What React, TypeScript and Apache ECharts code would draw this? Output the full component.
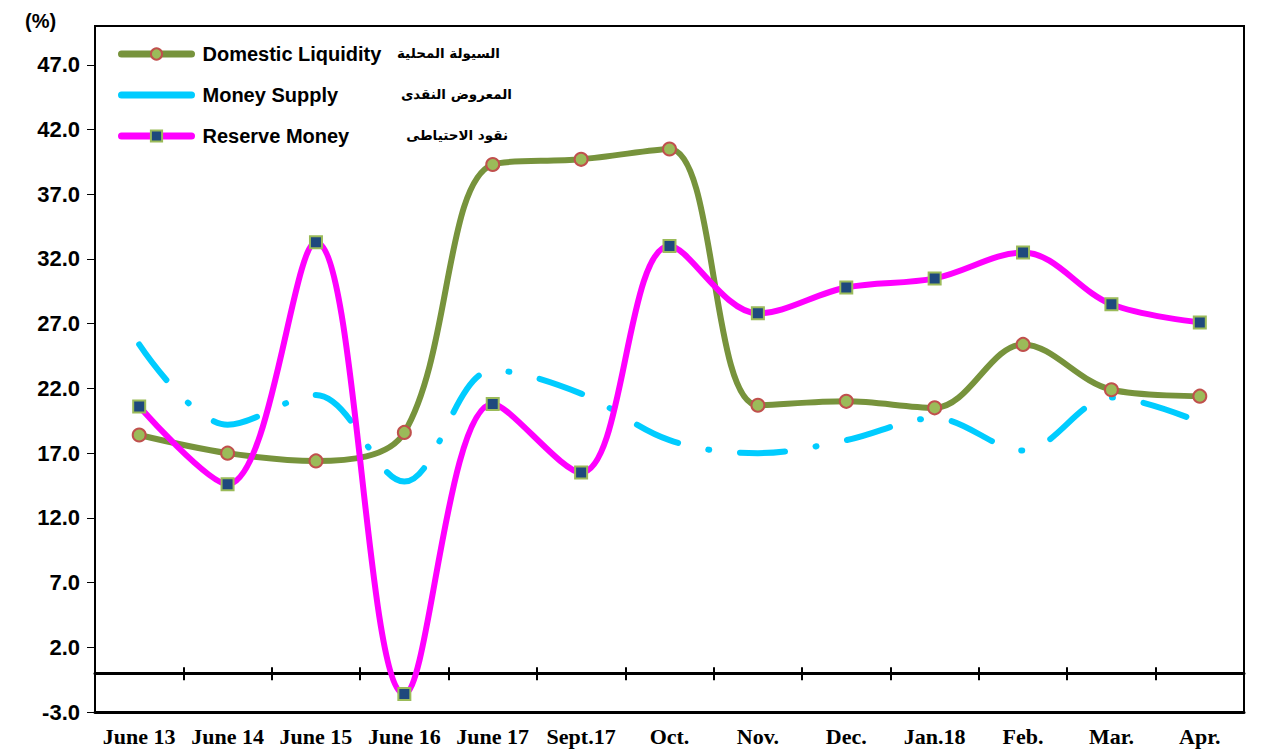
import React, { useEffect, useRef } from "react";
import * as echarts from "echarts";

const categories = ["June 13", "June 14", "June 15", "June 16", "June 17", "Sept.17", "Oct.", "Nov.", "Dec.", "Jan.18", "Feb.", "Mar.", "Apr."];
const domesticLiquidity = [18.4, 17.0, 16.4, 18.6, 39.3, 39.7, 40.5, 20.7, 21.0, 20.5, 25.4, 21.9, 21.4];
const moneySupply = [25.4, 19.2, 21.5, 14.8, 23.4, 21.6, 18.0, 17.0, 18.0, 19.7, 17.2, 21.3, 19.4];
const reserveMoney = [20.6, 14.6, 33.3, -1.6, 20.8, 15.5, 33.0, 27.8, 29.8, 30.5, 32.5, 28.5, 27.1];
const yTicks = [-3, 2, 7, 12, 17, 22, 27, 32, 37, 42, 47];
const seriesNames = ["Domestic Liquidity", "Money Supply", "Reserve Money"];
const arabicNames = ["السيولة المحلية", "المعروض النقدى", "نقود الاحتياطى"];

const Y_MIN = -3;
const Y_MAX = 50;
const GRID_TOP = 26;
const GRID_BOTTOM = 42;
const CHART_H = 754;

export default function App() {
  const ref = useRef<HTMLDivElement>(null);
  useEffect(() => {
    const chart = echarts.init(ref.current!, null, { renderer: "svg" });
    const sans = { fontFamily: "Liberation Sans, Arial, sans-serif", fontWeight: "bold" as const, color: "#000" };
    const gridH = CHART_H - GRID_TOP - GRID_BOTTOM;
    const zeroFromTop = (gridH * (Y_MAX - 0)) / (Y_MAX - Y_MIN);
    chart.setOption({
      animation: false,
      backgroundColor: "#fff",
      grid: {
        left: 95, top: GRID_TOP, right: 28, bottom: GRID_BOTTOM,
        show: true, borderColor: "#000", borderWidth: 2, backgroundColor: "transparent",
        containLabel: false, outerBoundsMode: "none",
      },
      legend: {
        orient: "vertical", left: 113, top: 39, itemWidth: 70, itemHeight: 14, itemGap: 21,
        data: [
          { name: seriesNames[0] },
          { name: seriesNames[1], itemStyle: { opacity: 0 } },
          { name: seriesNames[2] },
        ],
        textStyle: { ...sans, fontSize: 20, padding: [0, 0, 0, 6] },
        lineStyle: { type: "solid", width: 7, cap: "round" },
      },
      xAxis: [
        {
          type: "category", data: categories, position: "bottom",
          axisLine: { onZero: false, lineStyle: { color: "#000", width: 3 } },
          axisTick: { show: false },
          axisLabel: { interval: 0, margin: 13, fontFamily: "Liberation Serif, Times New Roman, serif", fontWeight: "bold", fontSize: 22, color: "#000" },
        },
        {
          type: "category", data: categories, position: "bottom",
          axisLine: { onZero: true, lineStyle: { color: "#000", width: 3 } },
          axisTick: { show: true, interval: 0, length: 7, lineStyle: { color: "#000", width: 2 } },
          axisLabel: { show: false },
        },
        {
          type: "category", data: categories, position: "top", offset: -zeroFromTop,
          axisLine: { show: false, onZero: false },
          axisTick: { show: true, interval: 0, length: 6, lineStyle: { color: "#000", width: 2 } },
          axisLabel: { show: false },
        },
      ],
      yAxis: {
        type: "value", min: Y_MIN, max: Y_MAX,
        axisLine: { show: true, onZero: false, lineStyle: { color: "#000", width: 2 } },
        axisTick: { show: true, length: 8, customValues: yTicks, lineStyle: { color: "#000", width: 1 } },
        axisLabel: { customValues: yTicks, margin: 15, fontSize: 22, ...sans, formatter: (v: number) => v.toFixed(1) },
        splitLine: { show: false },
      },
      graphic: [
        { type: "text", left: 25, top: 11, style: { text: "(%)", font: "bold 20px Liberation Sans, Arial, sans-serif", fill: "#000" } },
        ...arabicNames.map((t, i) => ({
          type: "text", x: [500, 512, 508][i], y: [53, 94, 135][i],
          style: { text: t, font: "bold 13.5px DejaVu Sans, sans-serif", fill: "#000", textAlign: "right", textVerticalAlign: "middle" },
        })),
      ],
      series: [
        {
          name: seriesNames[0], type: "line", data: domesticLiquidity, smooth: 0.35, xAxisIndex: 0, yAxisIndex: 0,
          lineStyle: { color: "#77933C", width: 6 }, itemStyle: { color: "#9BBB59", borderColor: "#C0504D", borderWidth: 2 },
          symbol: "circle", symbolSize: 13, z: 3,
        },
        {
          name: seriesNames[1], type: "line", data: moneySupply, smooth: 0.35, xAxisIndex: 0, yAxisIndex: 0,
          lineStyle: { color: "#00CCFF", width: 6, type: [45, 31, 1, 31], cap: "round" }, itemStyle: { color: "#00CCFF" },
          symbol: "none", z: 2,
        },
        {
          name: seriesNames[2], type: "line", data: reserveMoney, smooth: 0.35, xAxisIndex: 0, yAxisIndex: 0,
          lineStyle: { color: "#FF00FF", width: 6 }, itemStyle: { color: "#1F497D", borderColor: "#9BBB59", borderWidth: 2 },
          symbol: "rect", symbolSize: 12, z: 4,
        },
      ],
    });
    return () => chart.dispose();
  }, []);
  return <div ref={ref} style={{ position: "fixed", left: 0, top: 0, width: 1272, height: 754 }} />;
}
